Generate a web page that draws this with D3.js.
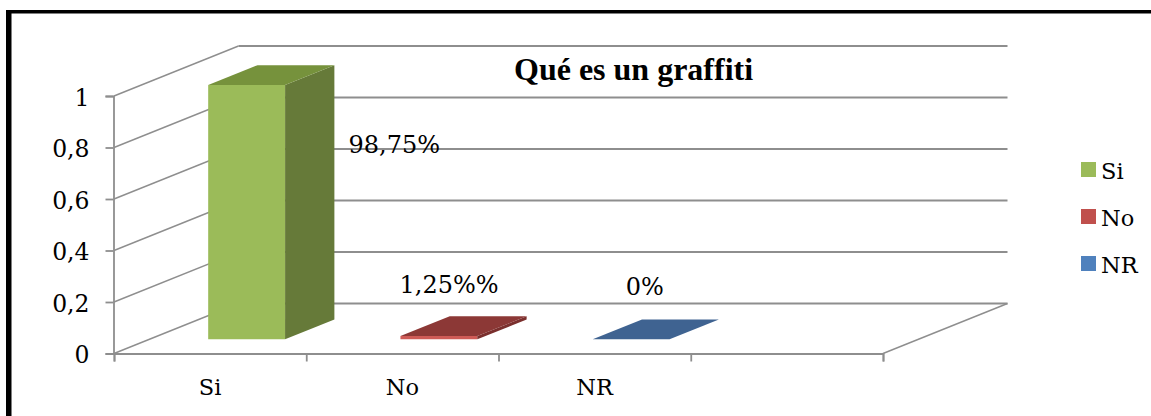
<!DOCTYPE html>
<html>
<head>
<meta charset="utf-8">
<script src="https://cdn.jsdelivr.net/npm/d3@7"></script>
<style>
    html, body { margin: 0; padding: 0; background: #fff; overflow: hidden; }
    svg { display: block; }
    text { font-family: "DejaVu Serif", serif; fill: #000; }
</style>
</head>
<body>
<svg id="chart" width="1151" height="416"></svg>
<script>
// data
const categories = ["Si", "No", "NR"];
const emptySlot = [""];
const values = [0.9875, 0.0125, 0];
const valueLabels = ["98,75%", "1,25%%", "0%"];
const yTicks = [0, 0.2, 0.4, 0.6, 0.8, 1];
const chartTitle = "Qué es un graffiti";

const COLORS = {
    Si: { legend: "#9bbb59", front: "#9bbb59", top: "#76923c", side: "#667a39" },
    No: { legend: "#c0504d", front: "#cf5b57", top: "#8c3836", side: "#7a2f2d" },
    NR: { legend: "#4f81bd", front: "#4f81bd", top: "#3f6391", side: "#37577f" }
};
const GRID = "#8e8e8e";

// 3d box of the plot: t=0 is the front edge, t=1 the back wall
const DEPTH_X = 124.5, DEPTH_Y = -50;
const BAR_T0 = 0.284, BAR_T1 = 0.68;
const BAR_PAD = 0.306, BAR_WIDTH = 0.4;
// value label offset from the centre of the bar's top face
const LABEL_OFFSET = [[123, 78], [-14.5, -33.5], [-11, -34]];

const svg = d3.select("#chart");

const y = d3.scaleLinear().domain([0, 1]).range([353.5, 96]);
const x = d3.scaleBand().domain(categories.concat(emptySlot)).range([114, 883]);
const xEdges = d3.scaleLinear().domain([0, 4]).range([114, 883]);

var px = function (v, t) { return v + DEPTH_X * t; };
var py = function (v, t) { return y(v) + DEPTH_Y * t; };
var poly = function (pts) { return pts.map(function (p) { return p.join(","); }).join(" "); };

// page frame, only top and left are there
svg.append("rect").attr("x", 6).attr("y", 10).attr("width", 1145).attr("height", 3.5).attr("fill", "#000");
svg.append("rect").attr("x", 6).attr("y", 10).attr("width", 5.5).attr("height", 406).attr("fill", "#000");

// back wall lines and the diagonals on the side wall
const grid = svg.append("g").attr("stroke", GRID).attr("fill", "none");
grid.selectAll(".back").data(yTicks).join("line")
    .attr("class", "back")
    .attr("x1", px(114, 1)).attr("x2", px(883, 1))
    .attr("y1", function (d) { return py(d, 1); })
    .attr("y2", function (d) { return py(d, 1); })
    .attr("stroke-width", 1.8);
grid.selectAll(".side").data(yTicks).join("line")
    .attr("class", "side")
    .attr("x1", 114).attr("x2", px(114, 1))
    .attr("y1", function (d) { return py(d, 0); })
    .attr("y2", function (d) { return py(d, 1); })
    .attr("stroke-width", 1.4);
grid.append("line")
    .attr("x1", 883).attr("x2", px(883, 1))
    .attr("y1", py(0, 0)).attr("y2", py(0, 1))
    .attr("stroke-width", 1.4);

// axes
const commaFormat = d3.formatLocale({ decimal: ",", thousands: ".", grouping: [3], currency: ["", ""] }).format("~g");

const gY = svg.append("g").attr("transform", "translate(113.5,0)")
    .call(d3.axisLeft(y).tickValues(yTicks).tickSize(8).tickPadding(16).tickFormat(commaFormat));
const gX = svg.append("g").attr("transform", "translate(0,353.5)")
    .call(d3.axisBottom(xEdges).ticks(4).tickSize(8).tickFormat(""));
const gXLabels = svg.append("g").attr("transform", "translate(0,353.5)")
    .call(d3.axisBottom(x).tickValues(categories).tickSize(0).tickPadding(26));
gXLabels.select(".domain").remove();

svg.selectAll(".domain, .tick line").attr("stroke", GRID).attr("stroke-width", 1.8);
gY.selectAll(".tick text").attr("font-family", "DejaVu Serif").attr("font-size", 23.5).attr("fill", "#000").attr("dy", "0.4em");
gXLabels.selectAll(".tick text").attr("font-family", "DejaVu Serif").attr("font-size", 22.5).attr("fill", "#000");

// bars
const bars = svg.append("g").selectAll("g").data(categories).join("g");

bars.each(function (c, i) {
    var v = values[i];
    var x0 = x(c) + x.bandwidth() * BAR_PAD;
    var x1 = x0 + x.bandwidth() * BAR_WIDTH;
    var col = COLORS[c];
    var g = d3.select(this);

    if (v > 0) {
        g.append("polygon").attr("fill", col.front).attr("points", poly([
            [px(x0, BAR_T0), py(0, BAR_T0)], [px(x1, BAR_T0), py(0, BAR_T0)],
            [px(x1, BAR_T0), py(v, BAR_T0)], [px(x0, BAR_T0), py(v, BAR_T0)]
        ]));
        g.append("polygon").attr("fill", col.side).attr("points", poly([
            [px(x1, BAR_T0), py(0, BAR_T0)], [px(x1, BAR_T1), py(0, BAR_T1)],
            [px(x1, BAR_T1), py(v, BAR_T1)], [px(x1, BAR_T0), py(v, BAR_T0)]
        ]));
    }
    g.append("polygon").attr("fill", col.top).attr("points", poly([
        [px(x0, BAR_T0), py(v, BAR_T0)], [px(x1, BAR_T0), py(v, BAR_T0)],
        [px(x1, BAR_T1), py(v, BAR_T1)], [px(x0, BAR_T1), py(v, BAR_T1)]
    ]));

    var cx = (px(x0, BAR_T0) + px(x1, BAR_T1)) / 2;
    var cy = (py(v, BAR_T0) + py(v, BAR_T1)) / 2;
    g.append("text")
        .attr("x", cx + LABEL_OFFSET[i][0])
        .attr("y", cy + LABEL_OFFSET[i][1])
        .attr("text-anchor", "middle")
        .attr("font-size", 24)
        .text(valueLabels[i]);
});

// title
svg.append("text")
    .attr("x", 514).attr("y", 80)
    .attr("font-size", 32)
    .attr("font-weight", "bold")
    .style("font-family", "'Liberation Serif', serif")
    .text(chartTitle);

// legend
const legend = svg.append("g").selectAll("g").data(categories).join("g")
    .attr("transform", function (d, i) { return "translate(1081," + (162 + i * 47) + ")"; });
legend.append("rect").attr("width", 15).attr("height", 15)
    .attr("fill", function (d) { return COLORS[d].legend; });
legend.append("text").attr("x", 20).attr("y", 17).attr("font-size", 22.5)
    .text(function (d) { return d; });
</script>
</body>
</html>
